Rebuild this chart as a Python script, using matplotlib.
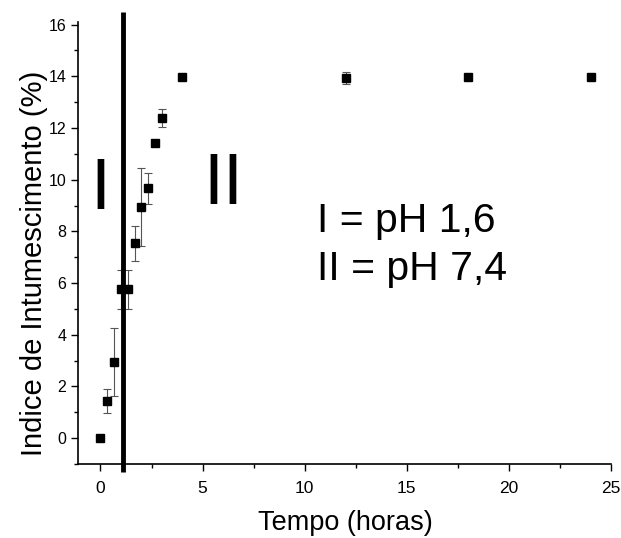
import matplotlib
matplotlib.use("Agg")
import matplotlib.pyplot as plt
from matplotlib.ticker import MultipleLocator

plt.rcParams['font.family'] = ['Liberation Sans', 'DejaVu Sans']

# Data
tempo = [0, 0.33, 0.67, 1.0, 1.33, 1.67, 2.0, 2.33, 2.67, 3.0, 4, 12, 18, 24]
indice = [0.0, 1.44, 2.95, 5.76, 5.76, 7.54, 8.95, 9.66, 11.4, 12.37, 13.98, 13.93, 13.98, 13.98]
erro = [0.0, 0.45, 1.33, 0.75, 0.75, 0.68, 1.52, 0.6, 0.0, 0.35, 0.0, 0.22, 0.0, 0.0]
troca_ph = 1.1
xticks = [0, 5, 10, 15, 20, 25]
yticks = [0, 2, 4, 6, 8, 10, 12, 14, 16]

fig = plt.figure(figsize=(6.21, 5.38), dpi=100)
ax = fig.add_axes([78/621, 1-464/538, 533/621, 442/538])

ax.errorbar(tempo, indice, yerr=erro, fmt='s', color='black', markersize=6.3,
            ecolor='#555555', elinewidth=0.8, capsize=3, capthick=0.8)

ax.plot([troca_ph, troca_ph], [-1.3, 16.5], color='black', lw=3.5, clip_on=False,
        solid_capstyle='butt')

ax.set_xlim(-1.1, 25)
ax.set_ylim(-1, 16.1)
ax.set_xticks(xticks)
ax.set_yticks(yticks)
ax.xaxis.set_minor_locator(MultipleLocator(2.5))
ax.yaxis.set_minor_locator(MultipleLocator(1))
ax.tick_params(which='major', direction='out', length=5, width=1, labelsize=12.5)
ax.tick_params(axis='x', which='major', pad=7)
ax.tick_params(axis='y', which='major', labelsize=11.5)
ax.tick_params(which='minor', direction='out', length=3, width=1)

for s in ['top', 'right']:
    ax.spines[s].set_visible(False)
for s in ['left', 'bottom']:
    ax.spines[s].set_linewidth(1.2)

ax.set_xlabel('Tempo (horas)', fontsize=19.5)
ax.set_ylabel('Indice de Intumescimento (%)', fontsize=21)
ax.xaxis.set_label_coords(0.501, -0.105)
ax.yaxis.set_label_coords(-0.056, 0.455)

ax.text(0.02, 8.85, 'I', fontsize=52, ha='center', va='baseline')
ax.text(5.05, 9.04, 'II', fontsize=52, ha='left', va='baseline')
ax.text(10.6, 7.96, 'I = pH 1,6', fontsize=29.5, ha='left', va='baseline')
ax.text(10.6, 6.1, 'II = pH 7,4', fontsize=29.5, ha='left', va='baseline')

fig.savefig('out.png', dpi=100)
